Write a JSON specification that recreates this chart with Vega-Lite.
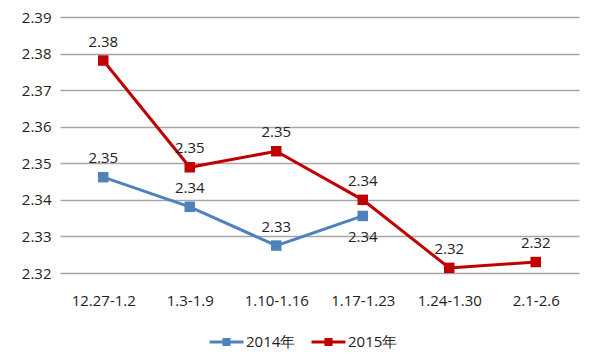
{
  "$schema": "https://vega.github.io/schema/vega-lite/v6.json",
  "width": 519,
  "height": 256,
  "autosize": {"type": "none"},
  "padding": {"left": 60, "top": 17, "right": 21, "bottom": 84},
  "background": "white",
  "config": {
    "view": {"stroke": null},
    "font": "Open Sans",
    "axis": {"labelFont": "Open Sans", "labelFontSize": 15, "labelColor": "#222222"},
    "legend": {"labelFont": "Open Sans", "labelFontSize": 15, "labelColor": "#222222"}
  },
  "data": {
    "values": [
      {"week": "12.27-1.2", "series": "2014年", "price": 2.3462},
      {"week": "1.3-1.9", "series": "2014年", "price": 2.3381},
      {"week": "1.10-1.16", "series": "2014年", "price": 2.3275},
      {"week": "1.17-1.23", "series": "2014年", "price": 2.3356},
      {"week": "12.27-1.2", "series": "2015年", "price": 2.3781},
      {"week": "1.3-1.9", "series": "2015年", "price": 2.3489},
      {"week": "1.10-1.16", "series": "2015年", "price": 2.3533},
      {"week": "1.17-1.23", "series": "2015年", "price": 2.3400},
      {"week": "1.24-1.30", "series": "2015年", "price": 2.3214},
      {"week": "2.1-2.6", "series": "2015年", "price": 2.3230}
    ]
  },
  "encoding": {
    "x": {
      "field": "week",
      "type": "nominal",
      "sort": ["12.27-1.2", "1.3-1.9", "1.10-1.16", "1.17-1.23", "1.24-1.30", "2.1-2.6"],
      "scale": {"padding": 0.5},
      "axis": {"title": null, "labelAngle": 0, "domain": false, "ticks": false, "labelPadding": 20, "grid": false}
    },
    "y": {
      "field": "price",
      "type": "quantitative",
      "scale": {"domain": [2.32, 2.39], "nice": false, "zero": false},
      "axis": {
        "title": null,
        "values": [2.32, 2.33, 2.34, 2.35, 2.36, 2.37, 2.38, 2.39],
        "format": ".2f",
        "domain": false,
        "ticks": false,
        "labelPadding": 9,
        "gridColor": "#a6a6a6",
        "gridWidth": 1.3
      }
    }
  },
  "layer": [
    {
      "mark": {"type": "line", "strokeWidth": 3},
      "encoding": {
        "color": {
          "field": "series",
          "type": "nominal",
          "scale": {"domain": ["2014年", "2015年"], "range": ["#4F81BD", "#C00000"]},
          "legend": {
            "title": null,
            "orient": "none",
            "legendX": 148,
            "legendY": 306,
            "direction": "horizontal",
            "symbolType": "M-1,0H1M-0.15,-0.15H0.15V0.15H-0.15Z",
            "symbolSize": 1156,
            "symbolStrokeWidth": 3,
            "labelOffset": 1,
            "columnPadding": 9,
            "encode": {"symbols": {"update": {"fill": {"scale": "color", "field": "value"}}}}
          }
        }
      }
    },
    {
      "mark": {"type": "point", "shape": "square", "filled": true, "size": 110, "opacity": 1},
      "encoding": {
        "color": {"field": "series", "type": "nominal", "legend": null}
      }
    },
    {
      "transform": [{"filter": "!(datum.series == '2014年' && datum.week == '1.17-1.23')"}],
      "mark": {"type": "text", "dy": -19, "fontSize": 15, "color": "#222222"},
      "encoding": {"text": {"field": "price", "type": "quantitative", "format": ".2f"}}
    },
    {
      "transform": [{"filter": "datum.series == '2014年' && datum.week == '1.17-1.23'"}],
      "mark": {"type": "text", "dy": 21, "fontSize": 15, "color": "#222222"},
      "encoding": {"text": {"field": "price", "type": "quantitative", "format": ".2f"}}
    }
  ]
}
